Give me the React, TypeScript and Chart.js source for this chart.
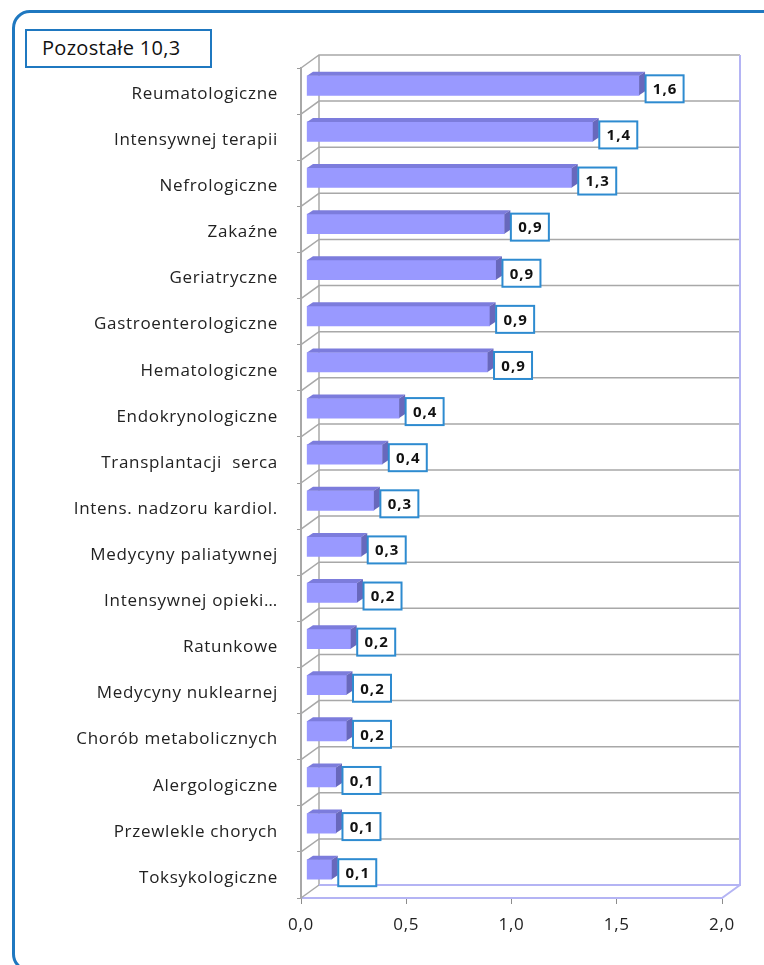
import React, { useEffect, useRef } from "react";
import { Chart, registerables } from "chart.js";

Chart.register(...registerables);

const titleText = "Pozostałe 10,3";

const categories = [
  "Reumatologiczne",
  "Intensywnej terapii",
  "Nefrologiczne",
  "Zakaźne",
  "Geriatryczne",
  "Gastroenterologiczne",
  "Hematologiczne",
  "Endokrynologiczne",
  "Transplantacji  serca",
  "Intens. nadzoru kardiol.",
  "Medycyny paliatywnej",
  "Intensywnej opieki…",
  "Ratunkowe",
  "Medycyny nuklearnej",
  "Chorób metabolicznych",
  "Alergologiczne",
  "Przewlekle chorych",
  "Toksykologiczne",
];

const values = [
  1.58, 1.36, 1.26, 0.94, 0.9, 0.87, 0.86, 0.44, 0.36, 0.32, 0.26, 0.24, 0.21,
  0.19, 0.19, 0.14, 0.14, 0.12,
];

const xMin = 0;
const xMax = 2;
const xStep = 0.5;

const fmt = (v: number) => v.toFixed(1).replace(".", ",");

const FONT = "'Open Sans', 'DejaVu Sans', sans-serif";

// 3D geometry
const WALL_DX = 18;
const WALL_DY = -13;
const BAR_TX = 5.5;
const BAR_TY = -5.5;
const BAR_DX = 6;
const BAR_DY = -4;

const threeD = {
  id: "threeD",
  beforeDraw(chart: any) {
    (chart.ctx as any).letterSpacing = "0.7px";
  },
  beforeDatasetsDraw(chart: any) {
    const ctx = chart.ctx as CanvasRenderingContext2D;
    const { left, right, top, bottom } = chart.chartArea;
    const yScale = chart.scales.y;
    const n = categories.length;
    const band = (bottom - top) / n;
    ctx.save();
    const gray = "#a8a8a8";
    const lav = "#b4b4f4";
    ctx.lineWidth = 1.5;
    ctx.strokeStyle = gray;
    for (let i = 0; i <= n; i++) {
      const yb = i === n ? bottom : yScale.getPixelForValue(i) - band / 2;
      ctx.beginPath();
      ctx.moveTo(left, yb);
      ctx.lineTo(left + WALL_DX, yb + WALL_DY);
      if (i < n) ctx.lineTo(right + WALL_DX, yb + WALL_DY);
      ctx.stroke();
    }
    ctx.beginPath();
    ctx.moveTo(left + WALL_DX, top + WALL_DY);
    ctx.lineTo(left + WALL_DX, bottom + WALL_DY);
    ctx.stroke();
    ctx.strokeStyle = lav;
    ctx.lineWidth = 2;
    ctx.beginPath();
    ctx.moveTo(right + WALL_DX, top + WALL_DY);
    ctx.lineTo(right + WALL_DX, bottom + WALL_DY);
    ctx.lineTo(left + WALL_DX, bottom + WALL_DY);
    ctx.moveTo(right + WALL_DX, bottom + WALL_DY);
    ctx.lineTo(right, bottom);
    ctx.stroke();
    ctx.restore();
    ctx.save();
    ctx.translate(BAR_TX, BAR_TY);
  },
  afterDatasetsDraw(chart: any) {
    const ctx = chart.ctx as CanvasRenderingContext2D;
    ctx.restore();
    const meta = chart.getDatasetMeta(0);
    ctx.save();
    meta.data.forEach((bar: any, i: number) => {
      const p = bar.getProps(["x", "y", "base", "height"], true);
      const x0 = Math.min(p.base, p.x) + BAR_TX;
      const x1 = Math.max(p.base, p.x) + BAR_TX;
      const yT = p.y - p.height / 2 + BAR_TY;
      const yB = p.y + p.height / 2 + BAR_TY;
      ctx.fillStyle = "#7c7cdc";
      ctx.beginPath();
      ctx.moveTo(x0, yT);
      ctx.lineTo(x1, yT);
      ctx.lineTo(x1 + BAR_DX, yT + BAR_DY);
      ctx.lineTo(x0 + BAR_DX, yT + BAR_DY);
      ctx.closePath();
      ctx.fill();
      ctx.fillStyle = "#6868bc";
      ctx.beginPath();
      ctx.moveTo(x1, yT);
      ctx.lineTo(x1 + BAR_DX, yT + BAR_DY);
      ctx.lineTo(x1 + BAR_DX, yB + BAR_DY);
      ctx.lineTo(x1, yB);
      ctx.closePath();
      ctx.fill();
      const bx = x1 + BAR_DX + 0.5;
      const by = yT - 0.5;
      const bw = 38;
      const bh = 27;
      ctx.fillStyle = "#ffffff";
      ctx.fillRect(bx, by, bw, bh);
      ctx.strokeStyle = "#2e8bd0";
      ctx.lineWidth = 2;
      ctx.strokeRect(bx, by, bw, bh);
      ctx.fillStyle = "#111111";
      (ctx as any).letterSpacing = "1px";
      ctx.font = `bold 15px ${FONT}`;
      ctx.textAlign = "center";
      ctx.textBaseline = "middle";
      ctx.fillText(fmt(values[i]), bx + bw / 2 + 0.5, by + bh / 2 + 1);
    });
    ctx.restore();
  },
};

export default function App() {
  const ref = useRef<HTMLCanvasElement>(null);
  useEffect(() => {
    if (!ref.current) return;
    const chart = new Chart(ref.current, {
      type: "bar",
      data: {
        labels: categories,
        datasets: [
          {
            data: values,
            backgroundColor: "#9999ff",
            borderWidth: 0,
            barThickness: 19.5,
          },
        ],
      },
      options: {
        indexAxis: "y",
        responsive: false,
        animation: false,
        layout: { padding: { left: 0, top: 68, right: 42, bottom: 0 } },
        plugins: {
          legend: { display: false },
          tooltip: { enabled: false },
        },
        scales: {
          x: {
            min: xMin,
            max: xMax,
            ticks: {
              stepSize: xStep,
              callback: (v: any) => fmt(Number(v)),
              font: { family: FONT, size: 17 },
              color: "#222222",
              padding: 11,
            },
            grid: {
              drawOnChartArea: false,
              drawTicks: true,
              tickLength: 6,
              color: "#8c8c8c",
              lineWidth: 1,
            },
            border: { display: true, color: "#b4b4f4", width: 2 },
            afterFit: (s: any) => {
              s.height = 67;
            },
          },
          y: {
            ticks: {
              font: { family: FONT, size: 17 },
              color: "#222222",
              padding: 19,
              autoSkip: false,
              labelOffset: 3,
            },
            grid: {
              drawOnChartArea: false,
              drawTicks: true,
              tickLength: 4,
              color: "#9a9a9a",
              offset: true,
            },
            border: { display: true, color: "#a8a8a8", width: 2 },
            afterFit: (s: any) => {
              s.width = 301;
            },
          },
        },
      } as any,
      plugins: [threeD],
    });
    return () => chart.destroy();
  }, []);

  return (
    <div
      style={{
        position: "fixed",
        left: 0,
        top: 0,
        width: 764,
        height: 965,
        overflow: "hidden",
        background: "#ffffff",
      }}
    >
      <div
        style={{
          position: "absolute",
          left: 12,
          top: 10,
          width: 900,
          height: 962,
          boxSizing: "border-box",
          border: "3px solid #1f78c0",
          borderRadius: 18,
        }}
      />
      <canvas
        ref={ref}
        width={764}
        height={965}
        style={{ position: "absolute", left: 0, top: 0, width: 764, height: 965 }}
      />
      <div
        style={{
          position: "absolute",
          left: 25,
          top: 29,
          width: 187,
          height: 39,
          boxSizing: "border-box",
          border: "2px solid #1f78c0",
          background: "#ffffff",
          fontFamily: FONT,
          fontSize: 20,
          letterSpacing: "0.3px",
          color: "#111111",
          paddingLeft: 15,
          lineHeight: "34px",
        }}
      >
        {titleText}
      </div>
    </div>
  );
}
